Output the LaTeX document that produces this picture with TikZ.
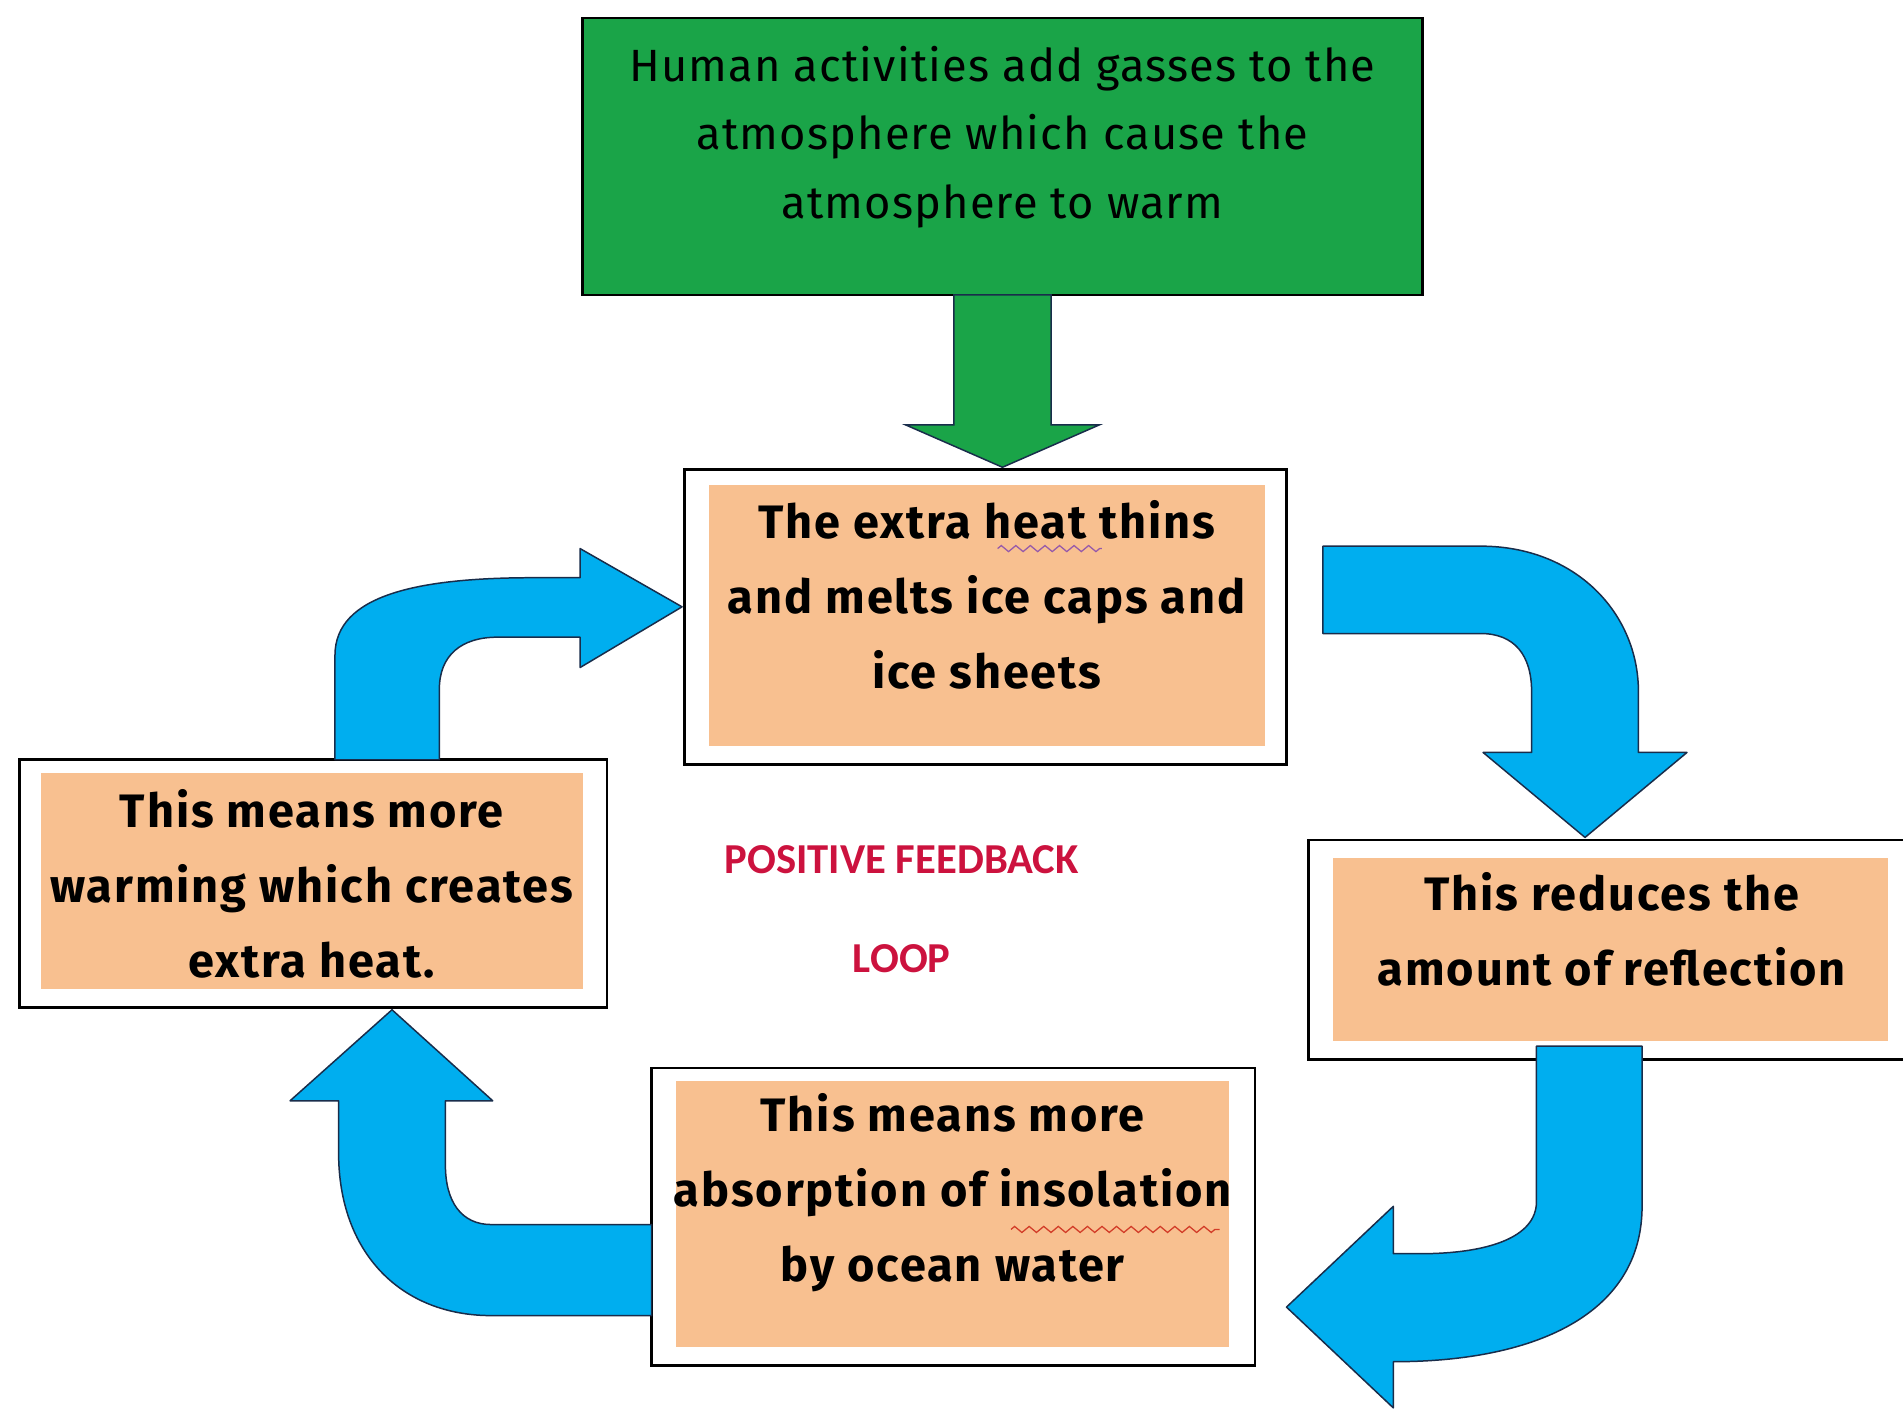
\documentclass[tikz,border=0pt]{standalone}
\usepackage{fontspec}
\setmainfont{Fira Sans}
\newfontfamily\boxfont[LetterSpace=4]{Fira Sans}
\newfontfamily\topfont[LetterSpace=2.5]{Fira Sans}
\newfontfamily\labelfont{Carlito}
\usetikzlibrary{decorations.pathmorphing}
\definecolor{boxgreen}{RGB}{26,164,72}
\definecolor{arrowblue}{RGB}{0,174,239}
\definecolor{boxorange}{RGB}{248,192,144}
\definecolor{loopred}{RGB}{204,18,62}
\definecolor{arrowedge}{RGB}{25,45,75}
\definecolor{squigred}{RGB}{210,60,40}
\definecolor{squigpurple}{RGB}{150,90,170}
\begin{document}
\begin{tikzpicture}[x=0.1mm,y=-0.1mm,
  outerbox/.style={draw=black, line width=0.6pt, fill=white, inner sep=0pt},
  innerbox/.style={fill=boxorange, inner sep=0pt},
  boxtext/.style={align=center, inner sep=0pt, font=\boxfont\bfseries\fontsize{11}{17.6}\selectfont},
  greentext/.style={align=center, inner sep=0pt, font=\topfont\fontsize{10.6}{16}\selectfont},
  blockarrow/.style={fill=arrowblue, draw=arrowedge, line width=0.35pt, line join=round},
  greenarrow/.style={fill=boxgreen, draw=arrowedge, line width=0.35pt},
  looplabel/.style={text=loopred, font=\labelfont\bfseries\fontsize{10}{12}\selectfont, inner sep=0pt},
  squiggle/.style={decorate, decoration={zigzag, segment length=1.2mm, amplitude=0.25mm}, line width=0.3pt}
]
\useasboundingbox (0,0) rectangle (1568,1162);
\clip (0,0) rectangle (1568,1162);

% top green box
\node[draw=black, line width=0.6pt, fill=boxgreen, minimum width=69.2mm, minimum height=22.8mm, inner sep=0pt] (gbox) at (826,129) {};
\node[greentext] (gtext) at (826,113) {Human activities add gasses to the\\atmosphere which cause the\\atmosphere to warm};

% middle top box
\node[outerbox, minimum width=49.6mm, minimum height=24.3mm] (mout) at (812,508.5) {};
\node[innerbox, minimum width=45.8mm, minimum height=21.5mm] (min) at (813,507.5) {};
\node[boxtext] (mtext) at (813,490) {The extra heat thins\\and melts ice caps and\\ice sheets};

% left box
\node[outerbox, minimum width=48.4mm, minimum height=20.4mm] (lout) at (258,728) {};
\node[innerbox, minimum width=44.6mm, minimum height=17.8mm] (lin) at (257,726) {};
\node[boxtext] (ltext) at (257,728) {This means more\\warming which creates\\extra heat.};

% right box
\node[outerbox, minimum width=49.8mm, minimum height=18.1mm] (rout) at (1327,782.5) {};
\node[innerbox, minimum width=45.8mm, minimum height=15.1mm] (rin) at (1327,782.5) {};
\node[boxtext] (rtext) at (1328,766) {This reduces the\\amount of reflection};

% bottom box
\node[outerbox, minimum width=49.7mm, minimum height=24.5mm] (bout) at (785.5,1002.5) {};
\node[innerbox, minimum width=45.6mm, minimum height=21.9mm] (bin) at (785,1000.5) {};
\node[boxtext] (btext) at (785,983) {This means more\\absorption of insolation\\by ocean water};

% centre label
\node[looplabel] (pf) at (743,708) {POSITIVE FEEDBACK};
\node[looplabel] (lp) at (743,790) {LOOP};

% spell-check marks
\draw[squiggle, draw=squigpurple] (822,452) -- (908,452);
\draw[squiggle, draw=squigred] (833,1013) -- (1005,1013);

% green arrow: gbox -> mout
\draw[greenarrow] (786,243) -- (866,243) -- (866,350) -- (906,350) -- (826,385) -- (746,350) -- (786,350) -- cycle;

% arrow A: lout -> mout
\draw[blockarrow] (276,626) -- (276,540) .. controls (276,490) and (345,476) .. (440,476) -- (478,476) -- (478,452) -- (562,500) -- (478,550) -- (478,525) -- (410,525) .. controls (380,525) and (362,540) .. (362,568) -- (362,626) -- cycle;

% arrow B: mout -> rout
\draw[blockarrow] (1090,450) -- (1220,450) .. controls (1298,450) and (1350,505) .. (1350,570) -- (1350,620) -- (1390,620) -- (1306,690) -- (1222,620) -- (1262,620) -- (1262,570) .. controls (1262,540) and (1248,522) .. (1220,522) -- (1090,522) -- cycle;

% arrow C: rout -> bout
\draw[blockarrow] (1266,862) -- (1353,862) -- (1353,994) .. controls (1353,1080) and (1270,1122) .. (1148,1122) -- (1148,1160) -- (1060,1077) -- (1148,994) -- (1148,1033) -- (1170,1033) .. controls (1225,1033) and (1266,1020) .. (1266,990) -- cycle;

% arrow D: bout -> lout
\draw[blockarrow] (537,1009) -- (405,1009) .. controls (380,1009) and (367,990) .. (367,960) -- (367,907) -- (406,907) -- (323,832) -- (239,907) -- (279,907) -- (279,950) .. controls (279,1032) and (330,1084) .. (405,1084) -- (537,1084) -- cycle;
\end{tikzpicture}
\end{document}
